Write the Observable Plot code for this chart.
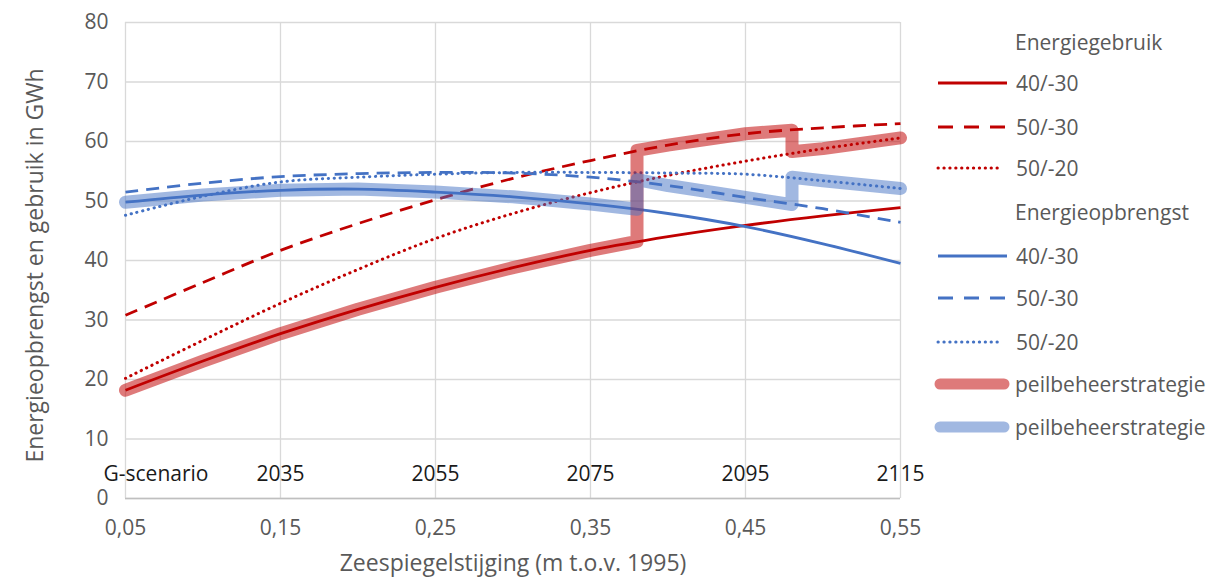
<!DOCTYPE html>
<html>
<head>
<meta charset="utf-8">
<script src="https://cdn.jsdelivr.net/npm/d3@7"></script>
<script src="https://cdn.jsdelivr.net/npm/@observablehq/plot@0.6"></script>
<style>
  html, body { margin: 0; padding: 0; background: #fff; }
  #wrap { position: relative; width: 1208px; height: 581px; font-family: "Open Sans", sans-serif; }
  #legend { position: absolute; left: 0; top: 0; }
  .row { position: absolute; left: 936px; height: 30px; display: flex; align-items: center; font-size: 21px; color: #595959; white-space: nowrap; }
  .row svg { margin-right: 5px; }
  .hdr { left: 1015px; }
</style>
</head>
<body>
<div id="wrap"><div id="chart"></div><div id="legend"></div></div>
<script>
// Sea level rise (m t.o.v. 1995)
const xs = [0.05, 0.10, 0.15, 0.20, 0.25, 0.30, 0.35, 0.40, 0.45, 0.50, 0.55];
// Energiegebruik (GWh)
const gebruik_40_30 = [18.2, 23.1, 27.7, 31.8, 35.5, 38.8, 41.7, 44.0, 45.9, 47.5, 48.9];
const gebruik_50_30 = [30.8, 36.3, 41.7, 46.2, 50.2, 53.8, 56.8, 59.4, 61.3, 62.3, 63.0];
const gebruik_50_20 = [20.2, 26.6, 32.8, 38.5, 43.7, 47.9, 51.4, 54.3, 56.7, 58.8, 60.6];
// Energieopbrengst (GWh)
const opbrengst_40_30 = [49.8, 51.0, 51.8, 52.0, 51.5, 50.7, 49.5, 47.9, 45.7, 42.8, 39.5];
const opbrengst_50_30 = [51.5, 53.0, 54.1, 54.6, 54.8, 54.7, 54.0, 52.6, 50.6, 48.7, 46.4];
const opbrengst_50_20 = [47.6, 50.8, 53.2, 54.0, 54.5, 54.8, 54.8, 54.7, 54.5, 53.4, 52.1];
// peilbeheerstrategie (switching path)
const bandX = [0.05, 0.10, 0.15, 0.20, 0.25, 0.30, 0.35, 0.38, 0.38, 0.40, 0.45, 0.48, 0.48, 0.50, 0.55];
const bandGebruik = [18.2, 23.1, 27.7, 31.8, 35.5, 38.8, 41.7, 43.2, 58.5, 59.4, 61.3, 61.9, 58.3, 58.8, 60.6];
const bandOpbrengst = [49.8, 51.0, 51.8, 52.0, 51.5, 50.7, 49.5, 48.6, 53.6, 52.6, 50.6, 49.4, 54.0, 53.4, 52.1];
// axes
const xTicks = [0.05, 0.15, 0.25, 0.35, 0.45, 0.55];
const yTicks = [0, 10, 20, 30, 40, 50, 60, 70, 80];
const yearLabels = ["G-scenario", "2035", "2055", "2075", "2095", "2115"];
const yearLabelY = 4;

const RED = "#C00000", BLUE = "#4472C4";
const DASH = "13,8", DOT = "0.3,5.6";

const toRows = (ys) => xs.map((x, i) => ({x, y: ys[i]}));
const bandRows = (ys) => bandX.map((x, i) => ({x, y: ys[i]}));

const series = [
  {d: gebruik_40_30, c: RED, dash: null},
  {d: gebruik_50_30, c: RED, dash: DASH},
  {d: gebruik_50_20, c: RED, dash: DOT},
  {d: opbrengst_40_30, c: BLUE, dash: null},
  {d: opbrengst_50_30, c: BLUE, dash: DASH},
  {d: opbrengst_50_20, c: BLUE, dash: DOT}
];

const fmt = d => d.toFixed(2).replace(".", ",");

const chart = Plot.plot({
  width: 1208, height: 581,
  marginLeft: 125, marginRight: 308, marginTop: 22, marginBottom: 83,
  style: {fontFamily: "'Open Sans', sans-serif", fontSize: "21px", color: "#595959", background: "#fff"},
  x: {domain: [0.05, 0.55]},
  y: {domain: [0, 80]},
  marks: [
    Plot.gridX(xTicks, {stroke: "#D9D9D9", strokeOpacity: 1, strokeWidth: 1.3}),
    Plot.gridY(yTicks, {stroke: "#D9D9D9", strokeOpacity: 1, strokeWidth: 1.3}),
    Plot.ruleY([0], {stroke: "#BFBFBF", strokeWidth: 1.5}),
    Plot.axisX(xTicks, {tickSize: 0, tickPadding: 22, tickFormat: fmt, label: null, fill: "#595959", fontSize: 21}),
    Plot.axisY(yTicks, {tickSize: 0, tickPadding: 17, label: null, fill: "#595959", fontSize: 21}),
    Plot.text(yearLabels.slice(0, 1), {x: xTicks[0], y: yearLabelY, text: d => d, fill: "#1a1a1a", fontSize: 21,
      textAnchor: "start", dx: -22}),
    Plot.text(yearLabels.slice(1), {x: (d, i) => xTicks[i + 1], y: yearLabelY, text: d => d, fill: "#1a1a1a", fontSize: 21,
      textAnchor: "middle"}),
    ...series.map(s => Plot.line(toRows(s.d), {x: "x", y: "y", stroke: s.c,
      strokeWidth: s.dash === DOT ? 3 : 2.8, strokeLinecap: s.dash === DOT ? "round" : "butt",
      strokeDasharray: s.dash, curve: "catmull-rom"})),
    Plot.line(bandRows(bandGebruik), {x: "x", y: "y", stroke: RED, strokeOpacity: 0.52, strokeWidth: 13,
      strokeLinecap: "round", strokeLinejoin: "round"}),
    Plot.line(bandRows(bandOpbrengst), {x: "x", y: "y", stroke: BLUE, strokeOpacity: 0.5, strokeWidth: 13,
      strokeLinecap: "round", strokeLinejoin: "round"}),
    Plot.text(["Zeespiegelstijging (m t.o.v. 1995)"], {frameAnchor: "bottom", dy: 72, fill: "#595959", fontSize: 23}),
    Plot.text(["Energieopbrengst en gebruik in GWh"], {frameAnchor: "left", rotate: -90, dx: -90, dy: 5, textAnchor: "middle",
      fill: "#595959", fontSize: 23})
  ]
});
document.getElementById("chart").appendChild(chart);

// Legend
const legendItems = [
  {label: "Energiegebruik", header: true, cy: 42},
  {label: "40/-30", c: RED, dash: null, cy: 83},
  {label: "50/-30", c: RED, dash: DASH, cy: 127},
  {label: "50/-20", c: RED, dash: DOT, cy: 168},
  {label: "Energieopbrengst", header: true, cy: 212},
  {label: "40/-30", c: BLUE, dash: null, cy: 256},
  {label: "50/-30", c: BLUE, dash: DASH, cy: 298},
  {label: "50/-20", c: BLUE, dash: DOT, cy: 342},
  {label: "peilbeheerstrategie", c: RED, band: true, op: 0.52, cy: 384},
  {label: "peilbeheerstrategie", c: BLUE, band: true, op: 0.5, cy: 427}
];
const leg = document.getElementById("legend");
for (const it of legendItems) {
  const row = document.createElement("div");
  row.className = "row" + (it.header ? " hdr" : "");
  row.style.top = (it.cy - 15) + "px";
  if (!it.header) {
    const ns = "http://www.w3.org/2000/svg";
    const svg = document.createElementNS(ns, "svg");
    svg.setAttribute("width", 76); svg.setAttribute("height", 20);
    const ln = document.createElementNS(ns, "line");
    if (it.band) {
      ln.setAttribute("x1", 6); ln.setAttribute("x2", 70);
      ln.setAttribute("stroke-width", 11); ln.setAttribute("stroke-linecap", "round");
      ln.setAttribute("stroke-opacity", it.op);
    } else {
      ln.setAttribute("x1", 3); ln.setAttribute("x2", 72);
      if (it.dash === DASH) { ln.setAttribute("stroke-dasharray", "15,11"); ln.setAttribute("stroke-width", 3.2); }
      else if (it.dash === DOT) { ln.setAttribute("stroke-dasharray", DOT); ln.setAttribute("stroke-width", 3); ln.setAttribute("stroke-linecap", "round"); ln.setAttribute("x2", 66); }
      else ln.setAttribute("stroke-width", 3);
    }
    ln.setAttribute("y1", 10); ln.setAttribute("y2", 10);
    ln.setAttribute("stroke", it.c);
    svg.appendChild(ln);
    row.appendChild(svg);
    row.style.left = (it.band ? 934 : 935) + "px";
  }
  const sp = document.createElement("span");
  sp.textContent = it.label;
  row.appendChild(sp);
  leg.appendChild(row);
}
</script>
</body>
</html>
